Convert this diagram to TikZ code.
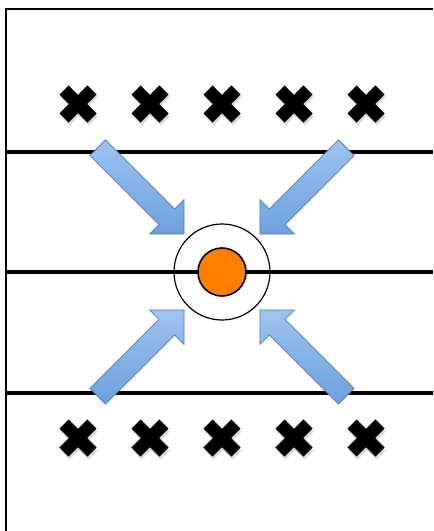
\documentclass[tikz,border=0pt]{standalone}
\usetikzlibrary{shapes.arrows,shapes.misc}

\definecolor{arrowblue}{RGB}{108,160,222}
\definecolor{arrowlight}{RGB}{158,196,240}
\definecolor{arrowedge}{RGB}{79,129,189}
\definecolor{ballorange}{RGB}{255,128,0}

\tikzset{every picture/.style={line width=0.75pt}}
\tikzset{
  xmark/.style={cross out,draw,line width=9.75pt,minimum size=21pt,inner sep=0pt,outer sep=0pt},
  xshade/.style={xmark,draw=black,opacity=0.15},
  pusharrow/.style={single arrow,draw=arrowedge,line width=0.6pt,
    top color=arrowlight,bottom color=arrowblue,
    minimum height=91.5pt,inner xsep=0pt,inner ysep=8pt,
    single arrow head extend=10pt,text height=0pt,text depth=0pt},
  lane/.style={line width=3pt}
}

\begin{document}
\begin{tikzpicture}[x=0.75pt,y=0.75pt,yscale=-1,xscale=1]
\useasboundingbox (0,0) rectangle (433,531);
\clip (0,0) rectangle (433,531);

%Frame
\draw [line width=1.5pt]  (6,545) -- (6,9) -- (445,9) ;

%Lanes
\coordinate (l1w) at (6,152);  \coordinate (l1e) at (445,152);
\coordinate (l2w) at (6,272);  \coordinate (l2e) at (445,272);
\coordinate (l3w) at (6,393);  \coordinate (l3e) at (445,393);
\draw [lane]  (l1w) -- (l1e) ;
\draw [lane]  (l2w) -- (l2e) ;
\draw [lane]  (l3w) -- (l3e) ;

%Crosses
\foreach \i/\xx in {1/78,2/150,3/222,4/294,5/366} {
  \node [xshade] at (\xx+1,107) {};
  \node [xshade] at (\xx+1,441) {};
  \node [xmark] (top\i) at (\xx,104) {};
  \node [xmark] (bot\i) at (\xx,438) {};
}

%Centre
\node [circle,draw,line width=0.9pt,minimum size=72pt,inner sep=0pt] (ring) at (222,272) {};
\node [circle,draw,line width=1.2pt,fill=ballorange,minimum size=36pt,inner sep=0pt] (ball) at (222,272) {};

%Arrows
\node [pusharrow,rotate=-45] (arrnw) at (137,187) {};
\node [pusharrow,rotate=-135] (arrne) at (307,187) {};
\node [pusharrow,rotate=45] (arrsw) at (137,357) {};
\node [pusharrow,rotate=135] (arrse) at (307,357) {};

\end{tikzpicture}
\end{document}
